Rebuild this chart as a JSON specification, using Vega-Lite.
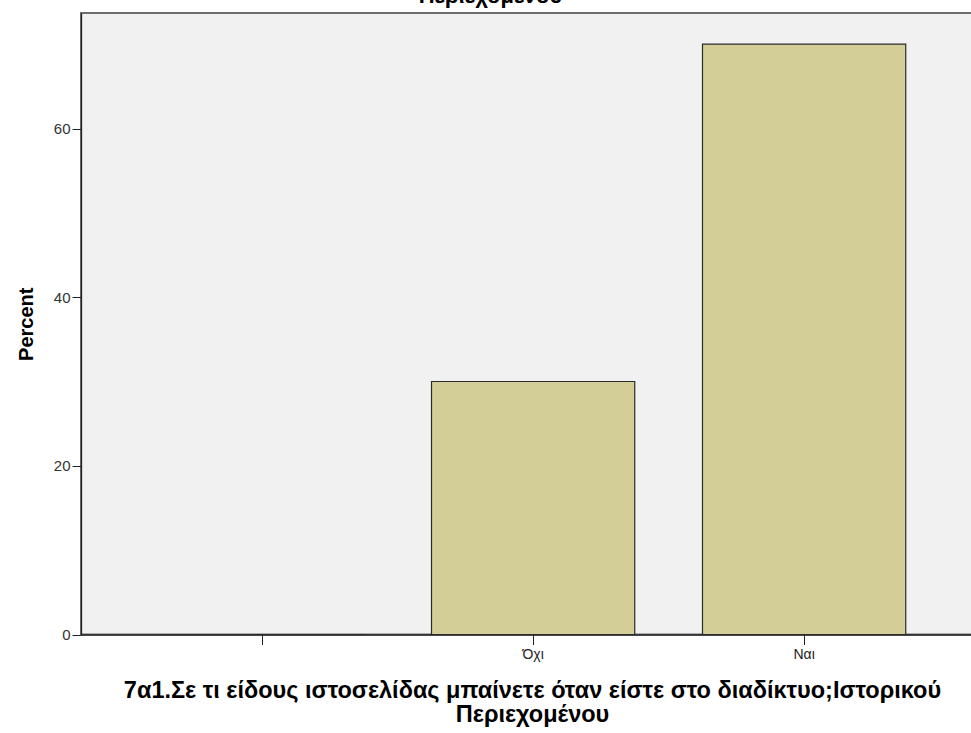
{
  "$schema": "https://vega.github.io/schema/vega-lite/v6.json",
  "autosize": {"type": "none"},
  "padding": {"left": 81, "top": 13, "right": 0, "bottom": 98.5},
  "width": 891,
  "height": 621.5,
  "background": "white",
  "title": {
    "text": ["7α1.Σε τι είδους ιστοσελίδας μπαίνετε όταν είστε στο διαδίκτυο;Ιστορικού", "Περιεχομένου"],
    "font": "Liberation Sans",
    "fontSize": 22,
    "fontWeight": "bold",
    "color": "#000000",
    "anchor": "middle",
    "baseline": "bottom",
    "lineHeight": 23,
    "offset": 0,
    "dy": 17,
    "dx": -36
  },
  "data": {
    "values": [
      {"category": "", "order": 1, "percent": 0},
      {"category": "Όχι", "order": 2, "percent": 30},
      {"category": "Ναι", "order": 3, "percent": 70}
    ]
  },
  "mark": {"type": "bar", "fill": "#D3CE97", "stroke": "#2b2b2b", "strokeWidth": 1.2},
  "encoding": {
    "x": {
      "field": "category",
      "type": "nominal",
      "sort": {"field": "order"},
      "scale": {"paddingInner": 0.25, "paddingOuter": 0.269, "align": 0.5455},
      "axis": {
        "title": ["7α1.Σε τι είδους ιστοσελίδας μπαίνετε όταν είστε στο διαδίκτυο;Ιστορικού", "Περιεχομένου"],
        "titleFont": "Liberation Sans",
        "titleFontSize": 23.5,
        "titleFontWeight": "bold",
        "titleColor": "#000000",
        "titlePadding": 17,
        "titleLineHeight": 24,
        "titleX": 451,
        "labelAngle": 0,
        "labelFont": "Liberation Sans",
        "labelFontSize": 14,
        "labelColor": "#222222",
        "labelPadding": 3,
        "tickSize": 10,
        "tickColor": "#222222",
        "domainColor": "#222222",
        "domainWidth": 1.3
      }
    },
    "y": {
      "field": "percent",
      "type": "quantitative",
      "scale": {"domain": [0, 73.7], "nice": false},
      "axis": {
        "title": "Percent",
        "titleFont": "Liberation Sans",
        "titleFontSize": 20,
        "titleFontWeight": "bold",
        "titleColor": "#000000",
        "titlePadding": 17,
        "values": [0, 20, 40, 60],
        "grid": false,
        "labelFont": "Liberation Sans",
        "labelFontSize": 15,
        "labelColor": "#333333",
        "labelPadding": 2,
        "tickSize": 9,
        "tickColor": "#222222",
        "domainColor": "#222222",
        "domainWidth": 1.3
      }
    }
  },
  "config": {
    "view": {"fill": "#F0F1F0", "stroke": "#6e6e6e", "strokeWidth": 2}
  }
}
